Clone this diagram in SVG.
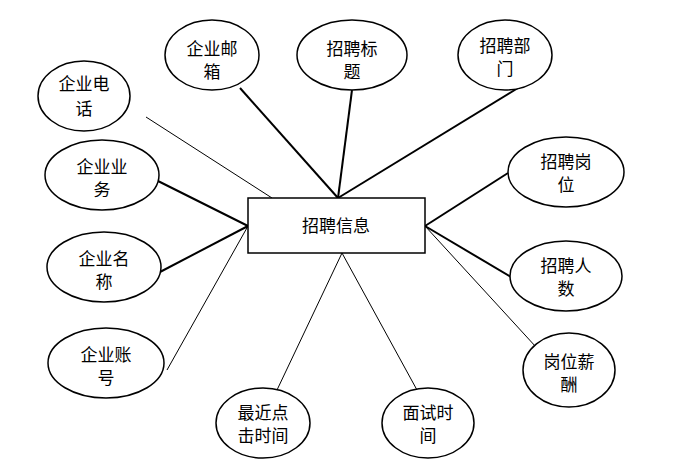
<svg xmlns="http://www.w3.org/2000/svg" width="676" height="471" viewBox="0 0 676 471">
<style>
.n ellipse,.n rect{fill:#fff;stroke:#000;stroke-width:1.5}
text{font-family:"Noto Sans CJK SC",sans-serif;font-size:17px;text-anchor:middle;fill:#000}
.c line{stroke:#000}
.t{stroke-width:2}.h{stroke-width:1}
</style>
<rect width="676" height="471" fill="#fff"/>
<g class="c">
<line class="h" x1="146" y1="117" x2="272" y2="198"/>
<line class="t" x1="240" y1="88" x2="338" y2="198"/>
<line class="t" x1="352" y1="90" x2="338" y2="198"/>
<line class="t" x1="518" y1="88" x2="338" y2="198"/>
<line class="t" x1="158" y1="181" x2="248" y2="226"/>
<line class="t" x1="508" y1="173" x2="425" y2="226"/>
<line class="t" x1="160" y1="272" x2="248" y2="226"/>
<line class="t" x1="511" y1="277" x2="425" y2="226"/>
<line class="h" x1="167" y1="370" x2="248" y2="226"/>
<line class="h" x1="536" y1="347" x2="425" y2="226"/>
<line class="h" x1="277" y1="390" x2="342" y2="253"/>
<line class="h" x1="417" y1="390" x2="342" y2="253"/>
</g>
<g id="center" class="n"><rect x="248" y="198" width="177" height="55"/><text x="336" y="232">招聘信息</text></g>
<g id="n1" class="n"><ellipse cx="84" cy="96" rx="46" ry="35"/><text x="84" y="90">企业电</text><text x="84" y="115">话</text></g>
<g id="n2" class="n"><ellipse cx="212" cy="55" rx="47" ry="35"/><text x="212" y="55">企业邮</text><text x="212" y="78">箱</text></g>
<g id="n3" class="n"><ellipse cx="352" cy="55" rx="55" ry="35"/><text x="352" y="55">招聘标</text><text x="352" y="78">题</text></g>
<g id="n4" class="n"><ellipse cx="505" cy="55" rx="47" ry="35"/><text x="505" y="52">招聘部</text><text x="505" y="75">门</text></g>
<g id="n5" class="n"><ellipse cx="102" cy="175" rx="57" ry="35"/><text x="102" y="173">企业业</text><text x="102" y="196">务</text></g>
<g id="n6" class="n"><ellipse cx="566" cy="172" rx="58" ry="35"/><text x="566" y="168">招聘岗</text><text x="566" y="191">位</text></g>
<g id="n7" class="n"><ellipse cx="104" cy="267" rx="57" ry="35"/><text x="104" y="265">企业名</text><text x="104" y="288">称</text></g>
<g id="n8" class="n"><ellipse cx="566" cy="276" rx="56" ry="35"/><text x="566" y="272">招聘人</text><text x="566" y="295">数</text></g>
<g id="n9" class="n"><ellipse cx="106" cy="363" rx="58" ry="35"/><text x="106" y="361">企业账</text><text x="106" y="384">号</text></g>
<g id="n10" class="n"><ellipse cx="569" cy="370" rx="46" ry="37"/><text x="569" y="368">岗位薪</text><text x="569" y="391">酬</text></g>
<g id="n11" class="n"><ellipse cx="263" cy="423" rx="47" ry="35"/><text x="263" y="419">最近点</text><text x="263" y="442">击时间</text></g>
<g id="n12" class="n"><ellipse cx="428" cy="423" rx="46" ry="35"/><text x="428" y="419">面试时</text><text x="428" y="442">间</text></g>
</svg>
